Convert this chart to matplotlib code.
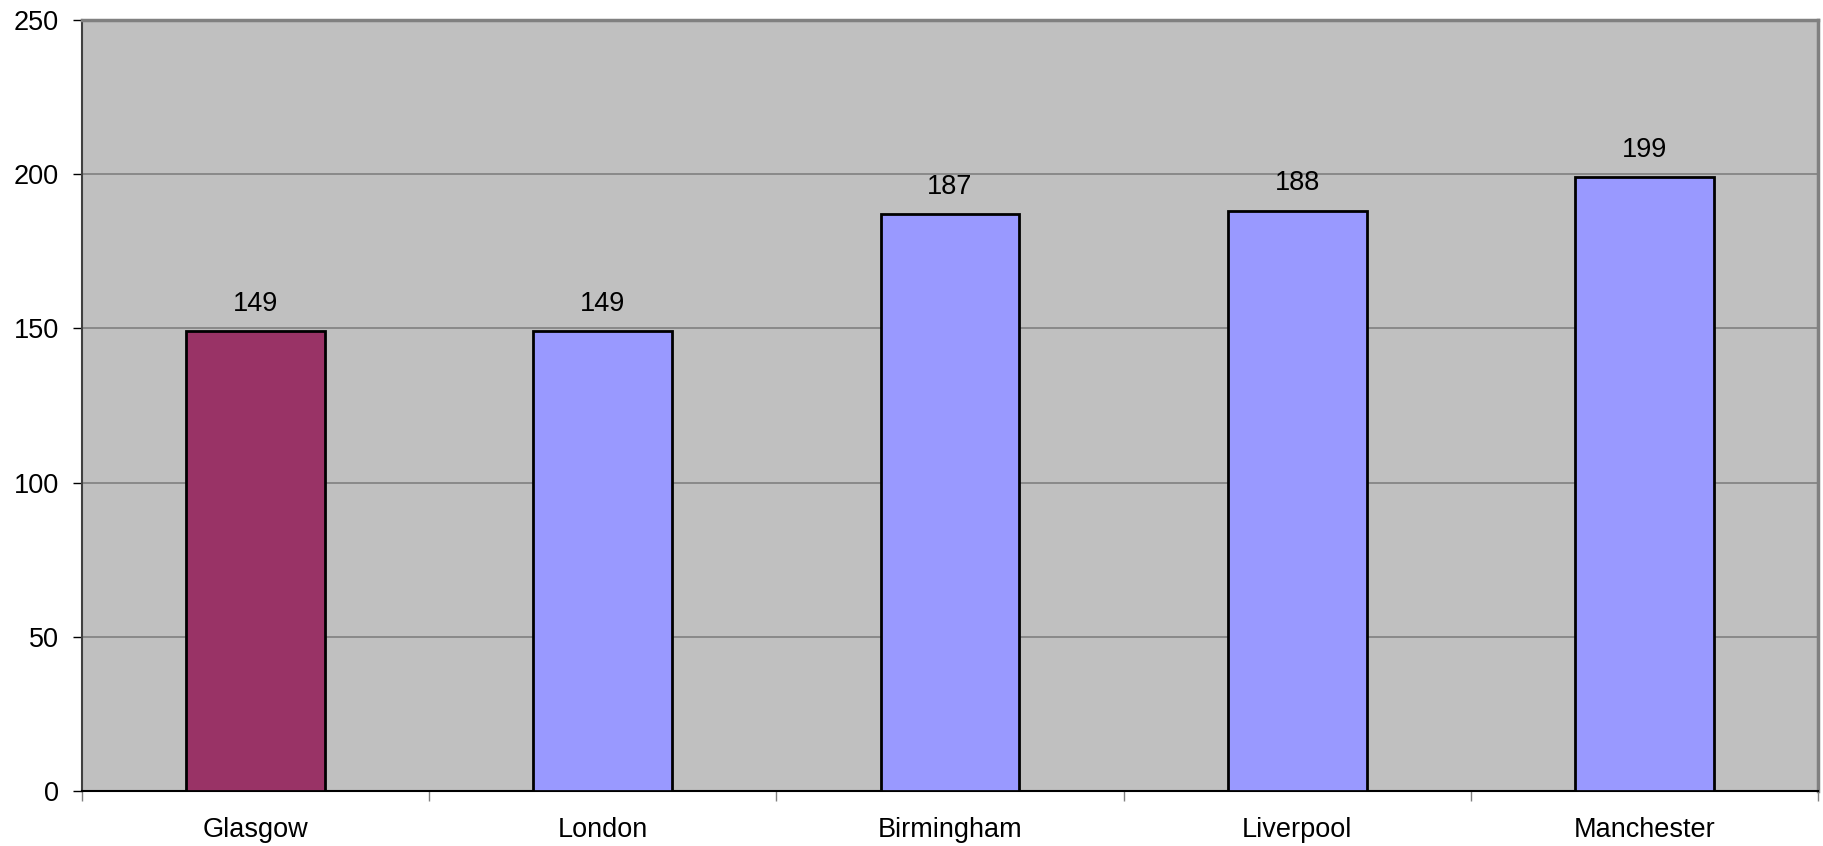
import matplotlib
matplotlib.use("Agg")
import matplotlib.pyplot as plt

cities = ["Glasgow", "London", "Birmingham", "Liverpool", "Manchester"]
values = [149, 149, 187, 188, 199]
colors = ["#993366", "#9999FF", "#9999FF", "#9999FF", "#9999FF"]
yticks = [0, 50, 100, 150, 200, 250]

plt.rcParams['font.family'] = ['Liberation Sans', 'DejaVu Sans']
FS = 19.5

W, H = 1823, 846
fig = plt.figure(figsize=(W / 100, H / 100), dpi=100)
ax = fig.add_axes([82 / W, 1 - 791 / H, (1818 - 82) / W, (791 - 20) / H])
ax.set_facecolor("#C0C0C0")

x = list(range(len(cities)))
bars = ax.bar(x, values, width=0.40, color=colors, edgecolor="black", linewidth=2, zorder=3)
for xi, v in zip(x, values):
    ax.annotate(str(v), (xi, v), xytext=(0, 20), textcoords="offset points",
                ha="center", va="center", fontsize=FS, zorder=4)

ax.set_xlim(-0.5, len(cities) - 0.5)
ax.set_ylim(0, 250)
ax.set_yticks(yticks)
ax.set_yticklabels([str(t) for t in yticks], fontsize=FS)
ax.yaxis.grid(True, color="#808080", linewidth=1.2, zorder=0)
ax.set_axisbelow(True)

ax.set_xticks(x)
ax.set_xticklabels(cities, fontsize=FS)
ax.tick_params(axis="x", which="major", length=0, pad=19)
ax.set_xticks([i + 0.5 for i in range(-1, len(cities))], minor=True)
ax.tick_params(axis="x", which="minor", length=7, width=1, color="#808080", direction="out")
ax.tick_params(axis="y", length=6.5, width=1, color="black", direction="out", pad=10)

for s in ["top", "right"]:
    ax.spines[s].set_color("#808080")
    ax.spines[s].set_linewidth(2.5)
ax.spines["left"].set_color("#404040")
ax.spines["left"].set_linewidth(1.5)
ax.spines["bottom"].set_color("black")
ax.spines["bottom"].set_linewidth(1.5)

fig.savefig("out.png", dpi=100, facecolor="white")
